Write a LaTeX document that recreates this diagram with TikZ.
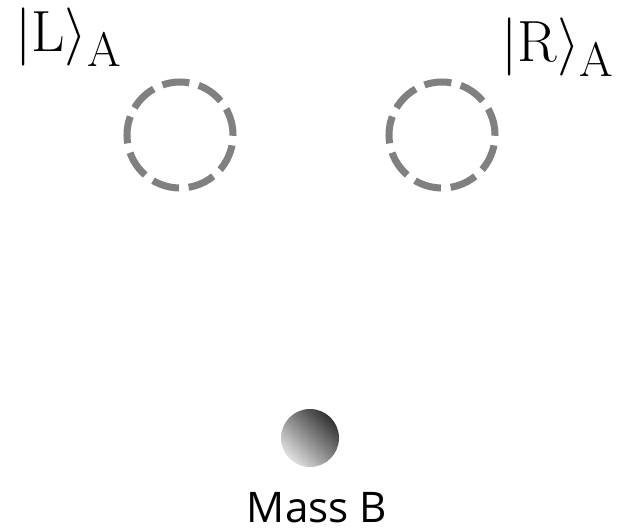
\documentclass[tikz,border=0pt]{standalone}
\usepackage{amsmath}
\usepackage{graphicx}
\usepackage{fontspec}
\usepackage{tikz}
\usepackage{xcolor}
\newfontfamily\massfont{Open Sans}

\tikzset{
    pathpos/.style={circle, draw=gray, line width=4pt, minimum size=2.12cm,
        inner sep=0pt, dash pattern=on 15.5pt off 5.5pt},
    statelabel/.style={inner sep=0pt, font=\Huge}
}
\newcommand{\statetext}[1]{\scalebox{1.33}{\(#1\)}}

\begin{document}
\begin{tikzpicture}
    \useasboundingbox (0,0) rectangle (12.4,10.62);

    \node[pathpos] (leftpos) at (3.6,7.92) {};
    \node[pathpos] (rightpos) at (8.84,7.92) {};

    \node[statelabel, anchor=base west] (leftlabel) at (0.3,9.58) {\statetext{|\mathrm{L}\rangle_{\mathrm{A}}}};
    \node[statelabel, anchor=base east] (rightlabel) at (12.3,9.38) {\statetext{|\mathrm{R}\rangle_{\mathrm{A}}}};

    \shade[top color=black!80, bottom color=black!12, shading angle=-45]
        (6.2,1.86) circle (0.58);
    \node[circle, minimum size=1.16cm, inner sep=0pt] (massB) at (6.2,1.86) {};

    \node[anchor=base, inner sep=0pt, font=\massfont\fontsize{24}{27}\selectfont] (masslabel) at (6.34,0.16) {Mass B};
\end{tikzpicture}
\end{document}
